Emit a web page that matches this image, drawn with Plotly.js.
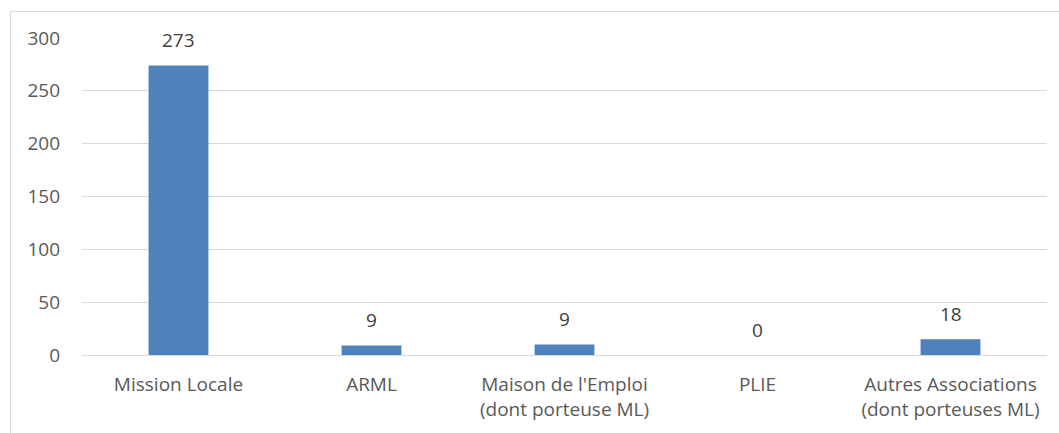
<!DOCTYPE html>
<html>
<head>
<meta charset="utf-8">
<script src="https://cdn.plot.ly/plotly-3.0.1.min.js"></script>
<style>
  html, body { margin:0; padding:0; background:#fff; overflow:hidden; }
  #wrap { position:relative; width:1059px; height:433px; }
  #chart { width:1059px; height:433px; }
  #frame { position:absolute; left:10px; top:11px; width:1200px; height:600px; border:1px solid #d9d9d9; pointer-events:none; }
</style>
</head>
<body>
<div id="wrap">
  <div id="chart"></div>
  <div id="frame"></div>
</div>
<script>
const categories = ["Mission Locale", "ARML", "Maison de l'Emploi<br>(dont porteuse ML)", "PLIE", "Autres Associations<br>(dont porteuses ML)"];
const barValues = [274, 9, 10, 0, 15];
const dataLabels = ["273", "9", "9", "0", "18"];
const yTicks = [0, 50, 100, 150, 200, 250, 300];

const trace = {
  type: 'bar',
  x: categories,
  y: barValues,
  marker: { color: '#4f81bd' },
  hoverinfo: 'none'
};

const annotations = categories.map((c, i) => ({
  x: c, y: barValues[i], xref: 'x', yref: 'y',
  text: dataLabels[i], showarrow: false,
  yanchor: 'bottom', yshift: 10,
  font: { family: 'Open Sans', size: 19, color: '#404040' }
}));

const layout = {
  width: 1059, height: 433,
  margin: { l: 82, r: 12, t: 38, b: 78 },
  paper_bgcolor: 'rgba(0,0,0,0)', plot_bgcolor: '#fff',
  bargap: 0.69,
  showlegend: false,
  font: { family: 'Open Sans', color: '#595959' },
  xaxis: {
    type: 'category',
    tickfont: { family: 'Open Sans', size: 19, color: '#595959' },
    ticks: '', showgrid: false, showline: false, zeroline: false,
    ticklabelstandoff: 16
  },
  yaxis: {
    range: [0, 300],
    tickvals: yTicks,
    ticktext: yTicks.map(String),
    tickfont: { family: 'Open Sans', size: 19, color: '#595959' },
    gridcolor: '#d9d9d9', gridwidth: 1,
    zeroline: true, zerolinecolor: '#d9d9d9', zerolinewidth: 1,
    showline: false, ticks: '',
    ticklabelstandoff: 21
  },
  annotations: annotations
};

Plotly.newPlot('chart', [trace], layout, { displayModeBar: false, staticPlot: true });
</script>
</body>
</html>
